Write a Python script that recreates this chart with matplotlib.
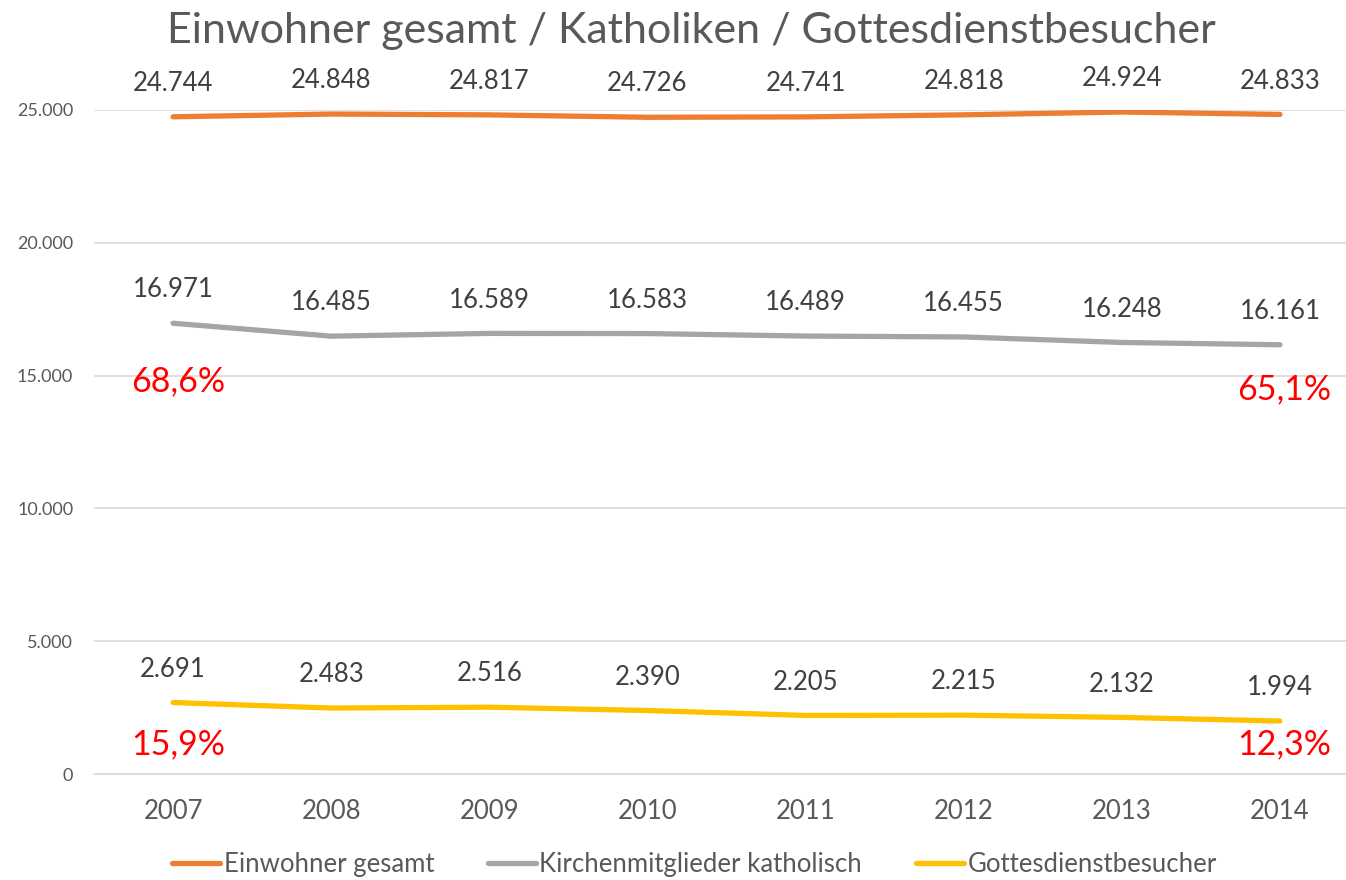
import matplotlib
matplotlib.use("Agg")
import matplotlib.pyplot as plt
from matplotlib.ticker import FuncFormatter

plt.rcParams['font.family'] = ['Lato', 'DejaVu Sans']

years = ['2007', '2008', '2009', '2010', '2011', '2012', '2013', '2014']
einwohner = [24744, 24848, 24817, 24726, 24741, 24818, 24924, 24833]
katholiken = [16971, 16485, 16589, 16583, 16489, 16455, 16248, 16161]
besucher = [2691, 2483, 2516, 2390, 2205, 2215, 2132, 1994]

series_names = ['Einwohner gesamt', 'Kirchenmitglieder katholisch', 'Gottesdienstbesucher']
series_colors = ['#ED7D31', '#A5A5A5', '#FFC000']

# percentage labels: (series, index, text, offset in points)
pct_labels = [
    (katholiken, 0, '68,6%', (4, -42)),
    (katholiken, 7, '65,1%', (3, -32)),
    (besucher, 0, '15,9%', (4, -30)),
    (besucher, 7, '12,3%', (3, -17)),
]


def de_fmt(v, pos=None):
    return f"{int(v):,}".replace(",", ".")


fig = plt.figure(figsize=(13.46, 8.8), dpi=100)
ax = fig.add_axes([94 / 1346, 106 / 880, 1252 / 1346, 664 / 880])

x = list(range(len(years)))
for vals, name, col in zip([einwohner, katholiken, besucher], series_names, series_colors):
    ax.plot(x, vals, color=col, lw=3.8, solid_capstyle='round', label=name, zorder=3)
    for xi, v in zip(x, vals):
        ax.annotate(de_fmt(v), (xi, v), xytext=(0, 24), textcoords='offset points',
                    ha='center', va='center', fontsize=18.5, color='#404040',
                    annotation_clip=False)

for vals, i, txt, off in pct_labels:
    ax.annotate(txt, (i, vals[i]), xytext=off, textcoords='offset points',
                ha='center', va='center', fontsize=24.5, color='#FF0000',
                annotation_clip=False)

ax.set_xlim(-0.5, 7.5 - 13 / 158.4)
ax.set_ylim(0, 25000)
ax.set_yticks([0, 5000, 10000, 15000, 20000, 25000])
ax.yaxis.set_major_formatter(FuncFormatter(de_fmt))
ax.set_xticks(x)
ax.set_xticklabels(years)
ax.grid(axis='y', color='#D9D9D9', lw=1.2)
ax.set_axisbelow(True)
for s in ['top', 'right', 'left']:
    ax.spines[s].set_visible(False)
ax.spines['bottom'].set_color('#D9D9D9')
ax.spines['bottom'].set_linewidth(1.2)
ax.tick_params(axis='y', length=0, pad=15, labelsize=13, labelcolor='#595959')
ax.tick_params(axis='x', length=0, pad=18, labelsize=18.5, labelcolor='#595959')

fig.text(0.514, 0.965, 'Einwohner gesamt / Katholiken / Gottesdienstbesucher',
         ha='center', va='center', fontsize=31, color='#595959')

leg = fig.legend(loc='center', bbox_to_anchor=(0.516, 0.018), ncol=3, frameon=False,
                 fontsize=18.5, handlelength=1.85, handletextpad=0.15, columnspacing=2.1)
for t in leg.get_texts():
    t.set_color('#595959')

fig.savefig('out.png', dpi=100)
